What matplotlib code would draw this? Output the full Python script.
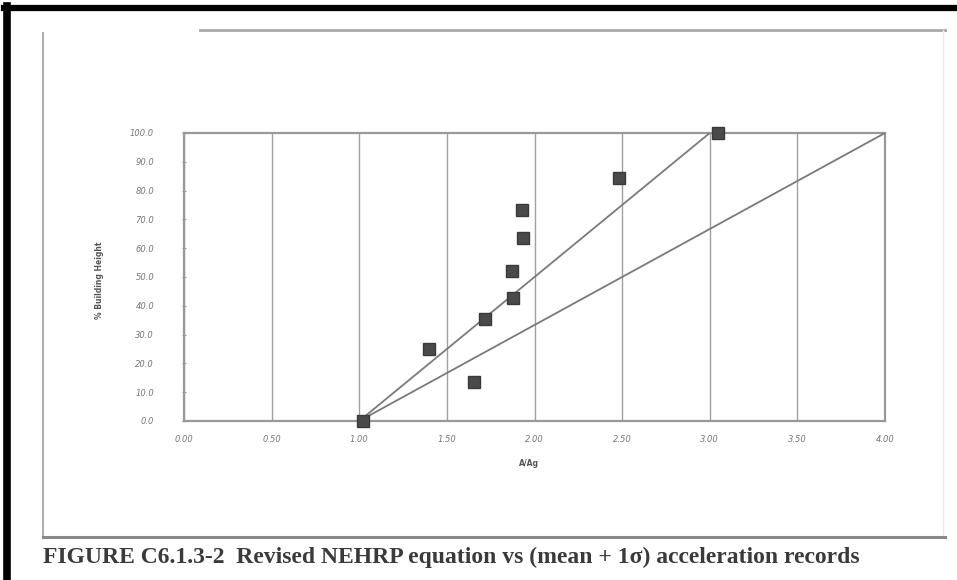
import matplotlib
matplotlib.use("Agg")
import matplotlib.pyplot as plt
from matplotlib.lines import Line2D

# Data
ratio_x = [1.02, 1.40, 1.655, 1.72, 1.88, 1.87, 1.935, 1.93, 2.48, 3.045]
height_y = [0.0, 25.0, 13.5, 35.3, 42.8, 52.0, 63.4, 73.4, 84.4, 100.0]
line1_x = [1.0, 3.0]
line1_y = [0.0, 100.0]
line2_x = [1.0, 4.0]
line2_y = [0.0, 100.0]
x_ticks = [0.0, 0.5, 1.0, 1.5, 2.0, 2.5, 3.0, 3.5, 4.0]
y_ticks = [0, 10, 20, 30, 40, 50, 60, 70, 80, 90, 100]
caption = "FIGURE C6.1.3-2  Revised NEHRP equation vs (mean + 1\u03c3) acceleration records"

W, H = 957, 580
fig = plt.figure(figsize=(W / 100, H / 100), dpi=100)
fig.patch.set_facecolor("white")

def fx(px):
    return px / W

def fy(py):
    return 1 - py / H

# outer black border (left and top)
fig.add_artist(Line2D([fx(7), fx(7)], [fy(6), fy(580)], color="black", lw=5.5, transform=fig.transFigure))
fig.add_artist(Line2D([fx(4), fx(957)], [fy(8), fy(8)], color="black", lw=4.5, transform=fig.transFigure))

# inner gray frame
fig.add_artist(Line2D([fx(43), fx(43)], [fy(33), fy(537)], color="#b0b0b0", lw=1.5, transform=fig.transFigure))
fig.add_artist(Line2D([fx(200), fx(945)], [fy(30), fy(30)], color="#a8a8a8", lw=2.0, transform=fig.transFigure))
fig.add_artist(Line2D([fx(943), fx(943)], [fy(30), fy(535)], color="#e8e8e8", lw=1.0, transform=fig.transFigure))
fig.add_artist(Line2D([fx(43), fx(945)], [fy(537), fy(537)], color="#8a8a8a", lw=2.2, transform=fig.transFigure))

ax = fig.add_axes([184 / W, 1 - 421 / H, (885 - 184) / W, (421 - 133) / H])
ax.set_xlim(0, 4)
ax.set_ylim(0, 100)

ax.plot(line1_x, line1_y, color="#7a7a7a", lw=1.3, zorder=3)
ax.plot(line2_x, line2_y, color="#7a7a7a", lw=1.3, zorder=3)
ax.plot(ratio_x, height_y, linestyle="none", marker="s", markersize=8,
        color="#4a4a4a", markeredgecolor="#3a3a3a", zorder=4, clip_on=False)

ax.set_xticks(x_ticks)
ax.set_xticklabels([f"{v:.2f}" for v in x_ticks], fontsize=6, fontstyle="italic", color="#777777")
ax.set_yticks(y_ticks)
ax.set_yticklabels([f"{v:.1f}" for v in y_ticks], fontsize=6, fontstyle="italic", color="#777777")
ax.tick_params(axis="x", length=0, pad=10)
ax.tick_params(axis="y", length=3, direction="inout", color="#999999", pad=20)

ax.grid(axis="x", color="#a0a0a0", lw=1.0)
ax.set_axisbelow(True)
for s in ax.spines.values():
    s.set_color("#999999")
    s.set_linewidth(1.6)

fig.text(fx(100), fy(280), "% Building Height", rotation=90, fontsize=5.5, fontweight="bold",
         color="#555555", ha="center", va="center")
fig.text(fx(529), fy(463), "A/Ag", fontsize=5.5, fontweight="bold", color="#555555",
         ha="center", va="center")

fig.text(fx(43), fy(557), caption, fontsize=17, family=["Liberation Serif", "DejaVu Serif"],
         fontweight="bold", color="#3a3a3a", ha="left", va="center")

fig.savefig("out.png", dpi=100)
